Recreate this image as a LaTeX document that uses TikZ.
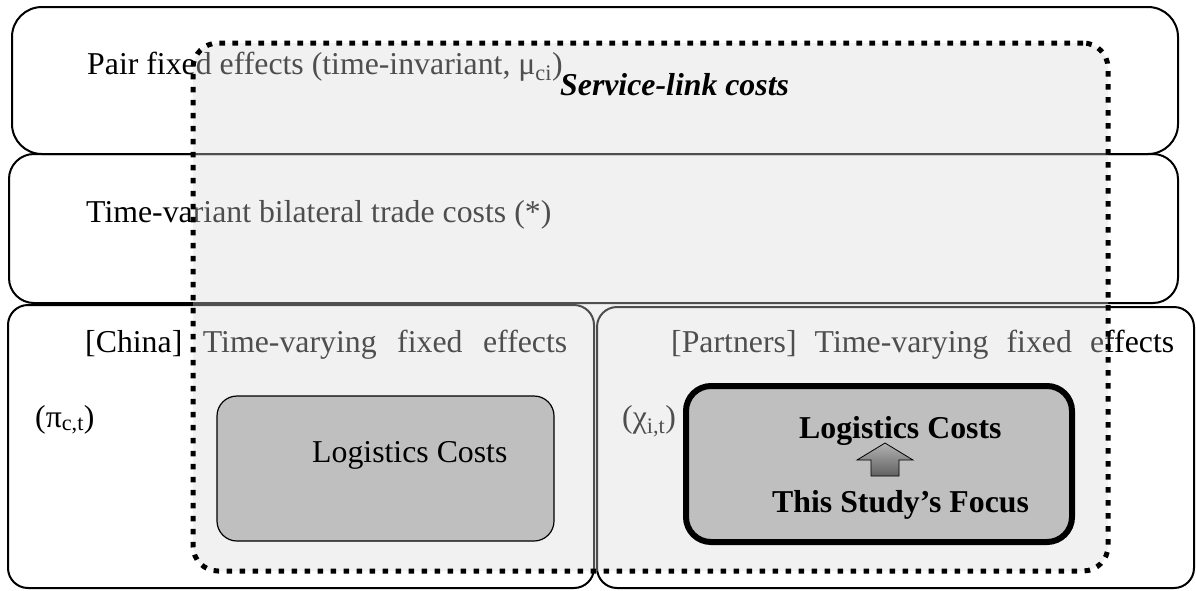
\documentclass[tikz,border=0pt]{standalone}
\usepackage{fontspec}
\setmainfont{Liberation Serif}
\newcommand{\bigfs}{\fontsize{31.8}{38}\selectfont}
\begin{document}
\begin{tikzpicture}[x=1pt,y=-1pt,
  rowbox/.style={draw=black,line width=2pt,rectangle,inner sep=0pt},
  lbl/.style={anchor=base west,inner sep=0pt,font=\bigfs,text=black},
  overlay/.style={rectangle,draw=black,line width=5pt,dash pattern=on 5.6pt off 7.4pt,
    fill=black!15,fill opacity=0.36,draw opacity=1,rounded corners=25pt,inner sep=0pt},
  costbox/.style={rectangle,draw=black,fill=black!25,inner sep=0pt},
  blockarrow/.style={draw=black,line width=0.8pt,top color=black!30,bottom color=black!62}]
\useasboundingbox (0,0) rectangle (1196,590);
% rows
\node[rowbox,rounded corners=30pt,minimum width=1166pt,minimum height=147pt] (r1) at (595,80.5) {};
\node[rowbox,rounded corners=25pt,minimum width=1169pt,minimum height=149pt] (r2) at (593.5,228.5) {};
\node[rowbox,rounded corners=20pt,minimum width=586pt,minimum height=283pt] (r3a) at (301,446.5) {};
\node[rowbox,rounded corners=20pt,minimum width=597pt,minimum height=281pt] (r3b) at (895.5,447.5) {};
% row texts
\node[lbl] (t1) at (87,74) {Pair fixed effects (time-invariant, μ\textsubscript{ci})};
\node[lbl] (t2) at (86,222) {Time-variant bilateral trade costs (*)};
\node[lbl] (t3) at (85,352) {\makebox[482pt][s]{[China] Time-varying fixed effects}};
\node[lbl] (t4) at (35,427) {(π\textsubscript{c,t})};
\node[lbl] (t5) at (671,352) {\makebox[503pt][s]{[Partners] Time-varying fixed effects}};
\node[lbl] (t6) at (622,427) {(χ\textsubscript{i,t})};
% service-link overlay
\node[overlay,minimum width=915pt,minimum height=528pt] (slc) at (650.5,307) {};
% logistics boxes
\node[costbox,line width=1.2pt,rounded corners=20pt,minimum width=337pt,minimum height=145pt] (lcA) at (385.5,468.5) {};
\node[costbox,line width=6pt,rounded corners=25pt,minimum width=386pt,minimum height=156pt] (lcB) at (879,464) {};
\draw[blockarrow] (871,476) -- (871,460) -- (857,460) -- (885,443) -- (913,460) -- (899,460) -- (899,476) -- cycle;
% top texts
\node[lbl] (t7) at (560,95) {\textbf{\textit{Service-link costs}}};
\node[lbl] (t8) at (312,462) {Logistics Costs};
\node[lbl] (t9) at (799,438) {\textbf{Logistics Costs}};
\node[lbl] (t10) at (772,512) {\textbf{This Study’s Focus}};
\end{tikzpicture}
\end{document}
